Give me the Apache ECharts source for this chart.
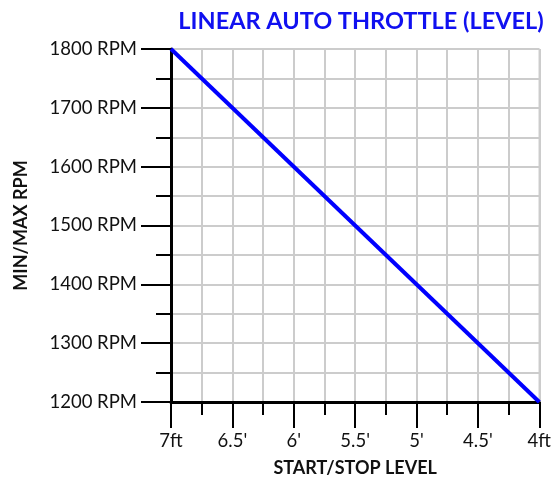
<!DOCTYPE html>
<html>
<head>
<meta charset="utf-8">
<title>Linear Auto Throttle</title>
<script src="https://cdn.jsdelivr.net/npm/echarts@6/dist/echarts.min.js"></script>
<style>
  html, body { margin: 0; padding: 0; background: #fff; }
</style>
</head>
<body>
<div id="main" style="width: 554px;height:482px;"></div>
<script>
// level in feet (x) and rpm (y)
var levels = [7, 4]
var rpms = [1800, 1200]
var levelLabels = {'7': '7ft', '6.5': "6.5'", '6': "6'", '5.5': "5.5'", '5': "5'", '4.5': "4.5'", '4': '4ft'}

var points = []
for (var i = 0; i < levels.length; i++) {
    points.push([levels[i], rpms[i]])
}

var chart = echarts.init(document.getElementById('main'))

var font = 'Lato'

var option = {
    animation: false,
    title: {
        text: 'LINEAR AUTO THROTTLE (LEVEL)',
        left: 356,
        textAlign: 'center',
        top: 4,
        textStyle: {
            color: '#1010f0',
            fontFamily: font,
            fontWeight: 'bold',
            fontSize: 23.5
        }
    },
    grid: {
        left: 171,
        right: 13,
        top: 49,
        bottom: 80,
        show: true,
        borderColor: '#888',
        borderWidth: 1
    },
    xAxis: {
        type: 'value',
        inverse: true,
        min: 4,
        max: 7,
        interval: 0.5,
        name: 'START/STOP LEVEL',
        nameLocation: 'middle',
        nameGap: 57,
        nameTextStyle: { color: '#111', fontFamily: font, fontWeight: 'bold', fontSize: 18 },
        axisLine: { lineStyle: { color: '#000', width: 3 } },
        axisTick: { length: 26, lineStyle: { color: '#000', width: 2 } },
        minorTick: { show: true, splitNumber: 2, length: 13, lineStyle: { color: '#000', width: 2 } },
        splitLine: { lineStyle: { color: '#ccc', width: 2 } },
        minorSplitLine: { show: true, lineStyle: { color: '#ccc', width: 2 } },
        axisLabel: {
            margin: 30,
            color: '#111',
            fontFamily: font,
            fontSize: 18.5,
            formatter: function(v) { return levelLabels[String(v)] || '' }
        }
    },
    yAxis: {
        type: 'value',
        min: 1200,
        max: 1800,
        interval: 100,
        name: 'MIN/MAX RPM',
        nameLocation: 'middle',
        nameGap: 141,
        nameTextStyle: { color: '#111', fontFamily: font, fontWeight: 'bold', fontSize: 18 },
        axisLine: { show: true, lineStyle: { color: '#000', width: 3 } },
        axisTick: { show: true, length: 30, lineStyle: { color: '#000', width: 2 } },
        minorTick: { show: true, splitNumber: 2, length: 15, lineStyle: { color: '#000', width: 2 } },
        splitLine: { lineStyle: { color: '#ccc', width: 2 } },
        minorSplitLine: { show: true, lineStyle: { color: '#ccc', width: 2 } },
        axisLabel: {
            margin: 34,
            color: '#111',
            fontFamily: font,
            fontSize: 18.5,
            formatter: function(v) { return v + ' RPM' }
        }
    },
    series: [{
        type: 'line',
        data: points,
        symbol: 'none',
        lineStyle: { color: '#0000ff', width: 4 }
    }]
}

chart.setOption(option)
</script>
</body>
</html>
